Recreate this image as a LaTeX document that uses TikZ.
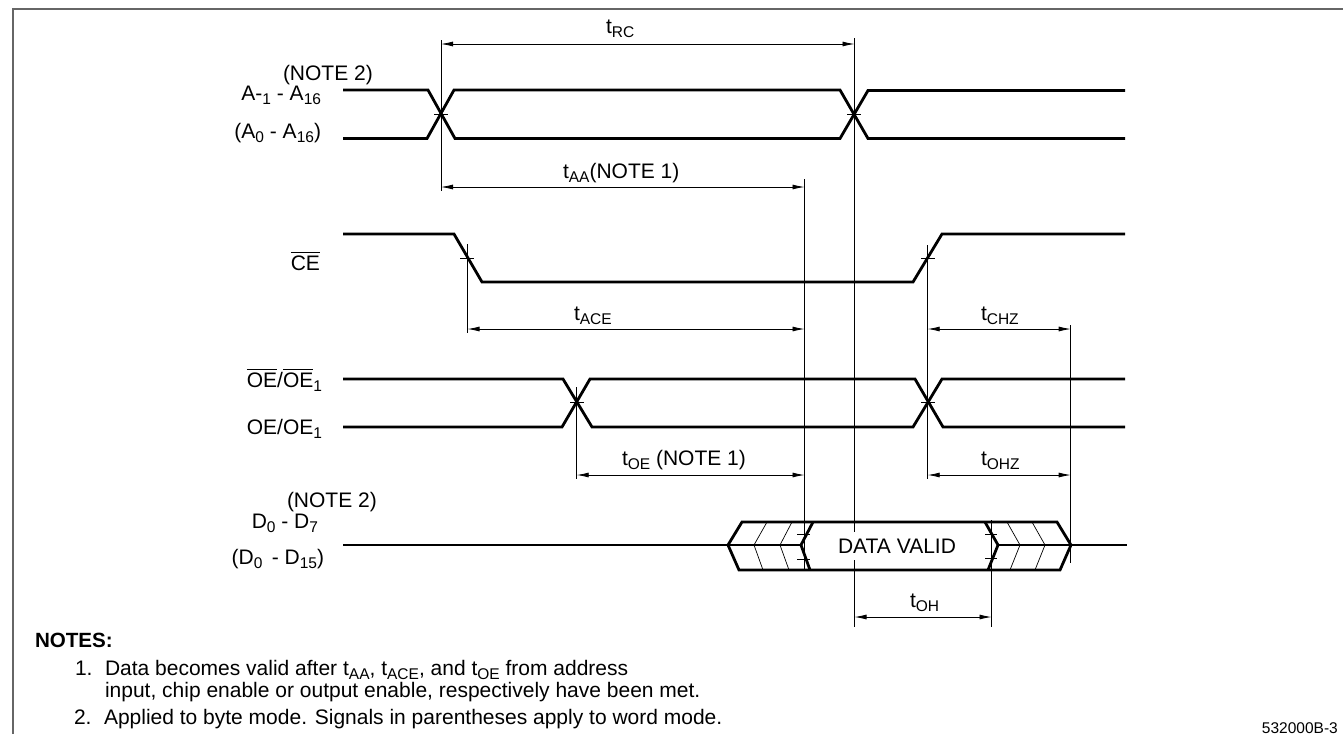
\documentclass[tikz,border=0pt]{standalone}
\usepackage{amsmath}
\usepackage{fontspec}
\setmainfont{Liberation Sans}
\usetikzlibrary{arrows.meta}

\newcommand{\dn}[1]{\raisebox{-4.5pt}{\fontsize{15.5}{18}\selectfont #1}}

\tikzset{
	wave/.style={line width=2.8pt, line join=miter},
	hatch/.style={line width=0.7pt},
	guide/.style={line width=0.9pt},
	span/.style={line width=0.8pt, <->, >={Latex[length=12pt,width=5pt]}},
	lbl/.style={inner sep=0pt, outer sep=0pt, font=\fontsize{21}{24}\selectfont}
}

\begin{document}
\begin{tikzpicture}[x=1pt, y=-1pt]
	\useasboundingbox (0, 0) rectangle (1343, 734);

	% frame
	\coordinate (FA) at (12.5, 734);
	\coordinate (FB) at (12.5, 8.5);
	\coordinate (FC) at (1343, 8.5);
	\draw[line width=2pt, black!60] (FA) -- (FB) -- (FC);

	% guides
	\coordinate (GAa) at (441, 40);     \coordinate (GAb) at (441, 191);
	\coordinate (GBa) at (854.5, 38);   \coordinate (GBb) at (854.5, 627);
	\coordinate (GCa) at (804.5, 179);  \coordinate (GCb) at (804.5, 570);
	\coordinate (GDa) at (467.5, 244);  \coordinate (GDb) at (467.5, 333);
	\coordinate (GEa) at (927.7, 245);  \coordinate (GEb) at (927.7, 479);
	\coordinate (GFa) at (576.7, 387);  \coordinate (GFb) at (576.7, 479);
	\coordinate (GGa) at (1070.7, 325); \coordinate (GGb) at (1070.7, 563);
	\coordinate (GHa) at (991.5, 520);  \coordinate (GHb) at (991.5, 627);
	\draw[guide] (GAa) -- (GAb);
	\draw[guide] (GBa) -- (GBb);
	\draw[guide] (GCa) -- (GCb);
	\draw[guide] (GDa) -- (GDb);
	\draw[guide] (GEa) -- (GEb);
	\draw[guide] (GFa) -- (GFb);
	\draw[guide] (GGa) -- (GGb);
	\draw[guide] (GHa) -- (GHb);

	% address
	\draw[wave] (343, 90) -- (428, 90) -- (455, 138.5) -- (840, 138.5) -- (868, 90.5) -- (1125, 90.5);
	\draw[wave] (343, 138.5) -- (427, 138.5) -- (454, 90) -- (840, 90) -- (868, 138.5) -- (1125, 138.5);
	\draw[hatch] (434, 114) -- (448, 114);
	\draw[hatch] (847, 114) -- (861, 114);

	% chip enable
	\draw[wave] (343, 234) -- (454, 234) -- (482, 282) -- (913, 282) -- (942, 234) -- (1125, 234);
	\draw[hatch] (460, 258) -- (474, 258);
	\draw[hatch] (921, 258) -- (935, 258);

	% output enable
	\draw[wave] (343, 379) -- (563, 379) -- (592, 427) -- (913, 427) -- (942, 379) -- (1125, 379);
	\draw[wave] (343, 427) -- (562, 427) -- (590, 379) -- (915, 379) -- (943, 427) -- (1125, 427);
	\draw[hatch] (570, 402.5) -- (584, 402.5);
	\draw[hatch] (921, 402.5) -- (935, 402.5);

	% data
	\draw[wave] (343, 545) -- (801, 545);
	\draw[wave] (998, 545) -- (1127, 545);
	\draw[wave] (728, 545) -- (742, 522) -- (1057, 522) -- (1071, 545) -- (1060, 570) -- (739, 570) -- cycle;
	\draw[wave] (813, 522) -- (801, 545) -- (810, 570);
	\draw[wave] (985, 522) -- (998, 545) -- (988, 570);
	\draw[hatch] (767, 522) -- (754, 545) -- (763, 570);
	\draw[hatch] (792, 522) -- (780, 545) -- (789, 570);
	\draw[hatch] (1007, 522) -- (1020, 545) -- (1010, 570);
	\draw[hatch] (1032, 522) -- (1045, 545) -- (1035, 570);
	\draw[hatch] (797, 534) -- (810, 534);
	\draw[hatch] (797, 559) -- (810, 559);
	\draw[hatch] (985, 534) -- (997, 534);
	\draw[hatch] (985, 558) -- (997, 558);
	\node[lbl, fill=white, minimum height=28pt, inner xsep=2pt] (DV) at (897, 546) {DATA VALID};

	% spans
	\coordinate (RCa) at (441, 44);     \coordinate (RCb) at (854.5, 44);
	\coordinate (AAa) at (441, 187);    \coordinate (AAb) at (804.5, 187);
	\coordinate (ACa) at (467.5, 329);  \coordinate (ACb) at (804.5, 329);
	\coordinate (OEa) at (576.7, 475);  \coordinate (OEb) at (804.5, 475);
	\coordinate (CHa) at (927.7, 329);  \coordinate (CHb) at (1070.7, 329);
	\coordinate (OZa) at (927.7, 475);  \coordinate (OZb) at (1070.7, 475);
	\coordinate (OHa) at (854.5, 617);  \coordinate (OHb) at (991.5, 617);
	\draw[span] (RCa) -- (RCb);
	\draw[span] (AAa) -- (AAb);
	\draw[span] (ACa) -- (ACb);
	\draw[span] (OEa) -- (OEb);
	\draw[span] (CHa) -- (CHb);
	\draw[span] (OZa) -- (OZb);
	\draw[span] (OHa) -- (OHb);

	\node[lbl, anchor=base west] (tRC) at (606, 33) {t\dn{RC}};
	\node[lbl, anchor=base west] (tAA) at (563, 178) {t\dn{AA}(NOTE 1)};
	\node[lbl, anchor=base west] (tACE) at (574, 320) {t\dn{ACE}};
	\node[lbl, anchor=base west] (tOE) at (622, 465) {t\dn{OE} (NOTE 1)};
	\node[lbl, anchor=base west] (tCHZ) at (981, 320) {t\dn{CHZ}};
	\node[lbl, anchor=base west] (tOHZ) at (981, 465) {t\dn{OHZ}};
	\node[lbl, anchor=base west] (tOH) at (910, 607) {t\dn{OH}};

	% signal names
	\node[lbl, anchor=base west] (NA) at (283, 80) {(NOTE 2)};
	\node[lbl, anchor=base east] (SA) at (321, 100) {A-\dn{1} - A\dn{16}};
	\node[lbl, anchor=base east] (SB) at (321, 138) {(A\dn{0} - A\dn{16})};
	\node[lbl, anchor=base east] (SC) at (320, 270) {$\overline{\mbox{CE}}$};
	\node[lbl, anchor=base east] (SD) at (322, 387) {$\overline{\mbox{OE}}$/$\overline{\mbox{OE}}$\dn{1}};
	\node[lbl, anchor=base east] (SE) at (322, 434) {OE/OE\dn{1}};
	\node[lbl, anchor=base west] (NB) at (287, 507) {(NOTE 2)};
	\node[lbl, anchor=base east] (SF) at (318, 528) {D\dn{0} - D\dn{7}};
	\node[lbl, anchor=base east] (SG) at (324, 564) {(D\dn{0}\, - D\dn{15})};

	% notes
	\node[lbl, anchor=base west, font=\fontsize{20.6}{24}\selectfont\bfseries] (NT) at (35, 647) {NOTES:};
	\node[lbl, anchor=base west] (NC) at (75, 675) {1.};
	\node[lbl, anchor=base west] (ND) at (105, 675) {Data becomes valid after t\dn{AA}, t\dn{ACE}, and t\dn{OE} from address};
	\node[lbl, anchor=base west] (NE) at (105, 697) {input, chip enable or output enable, respectively have been met.};
	\node[lbl, anchor=base west] (NF) at (74, 724) {2.};
	\node[lbl, anchor=base west] (NG) at (104, 724) {Applied to byte mode. Signals in parentheses apply to word mode.};
	\node[inner sep=0pt, anchor=base east, font=\fontsize{15.5}{18}\selectfont] (ID) at (1338, 733) {532000B-3};
\end{tikzpicture}
\end{document}
